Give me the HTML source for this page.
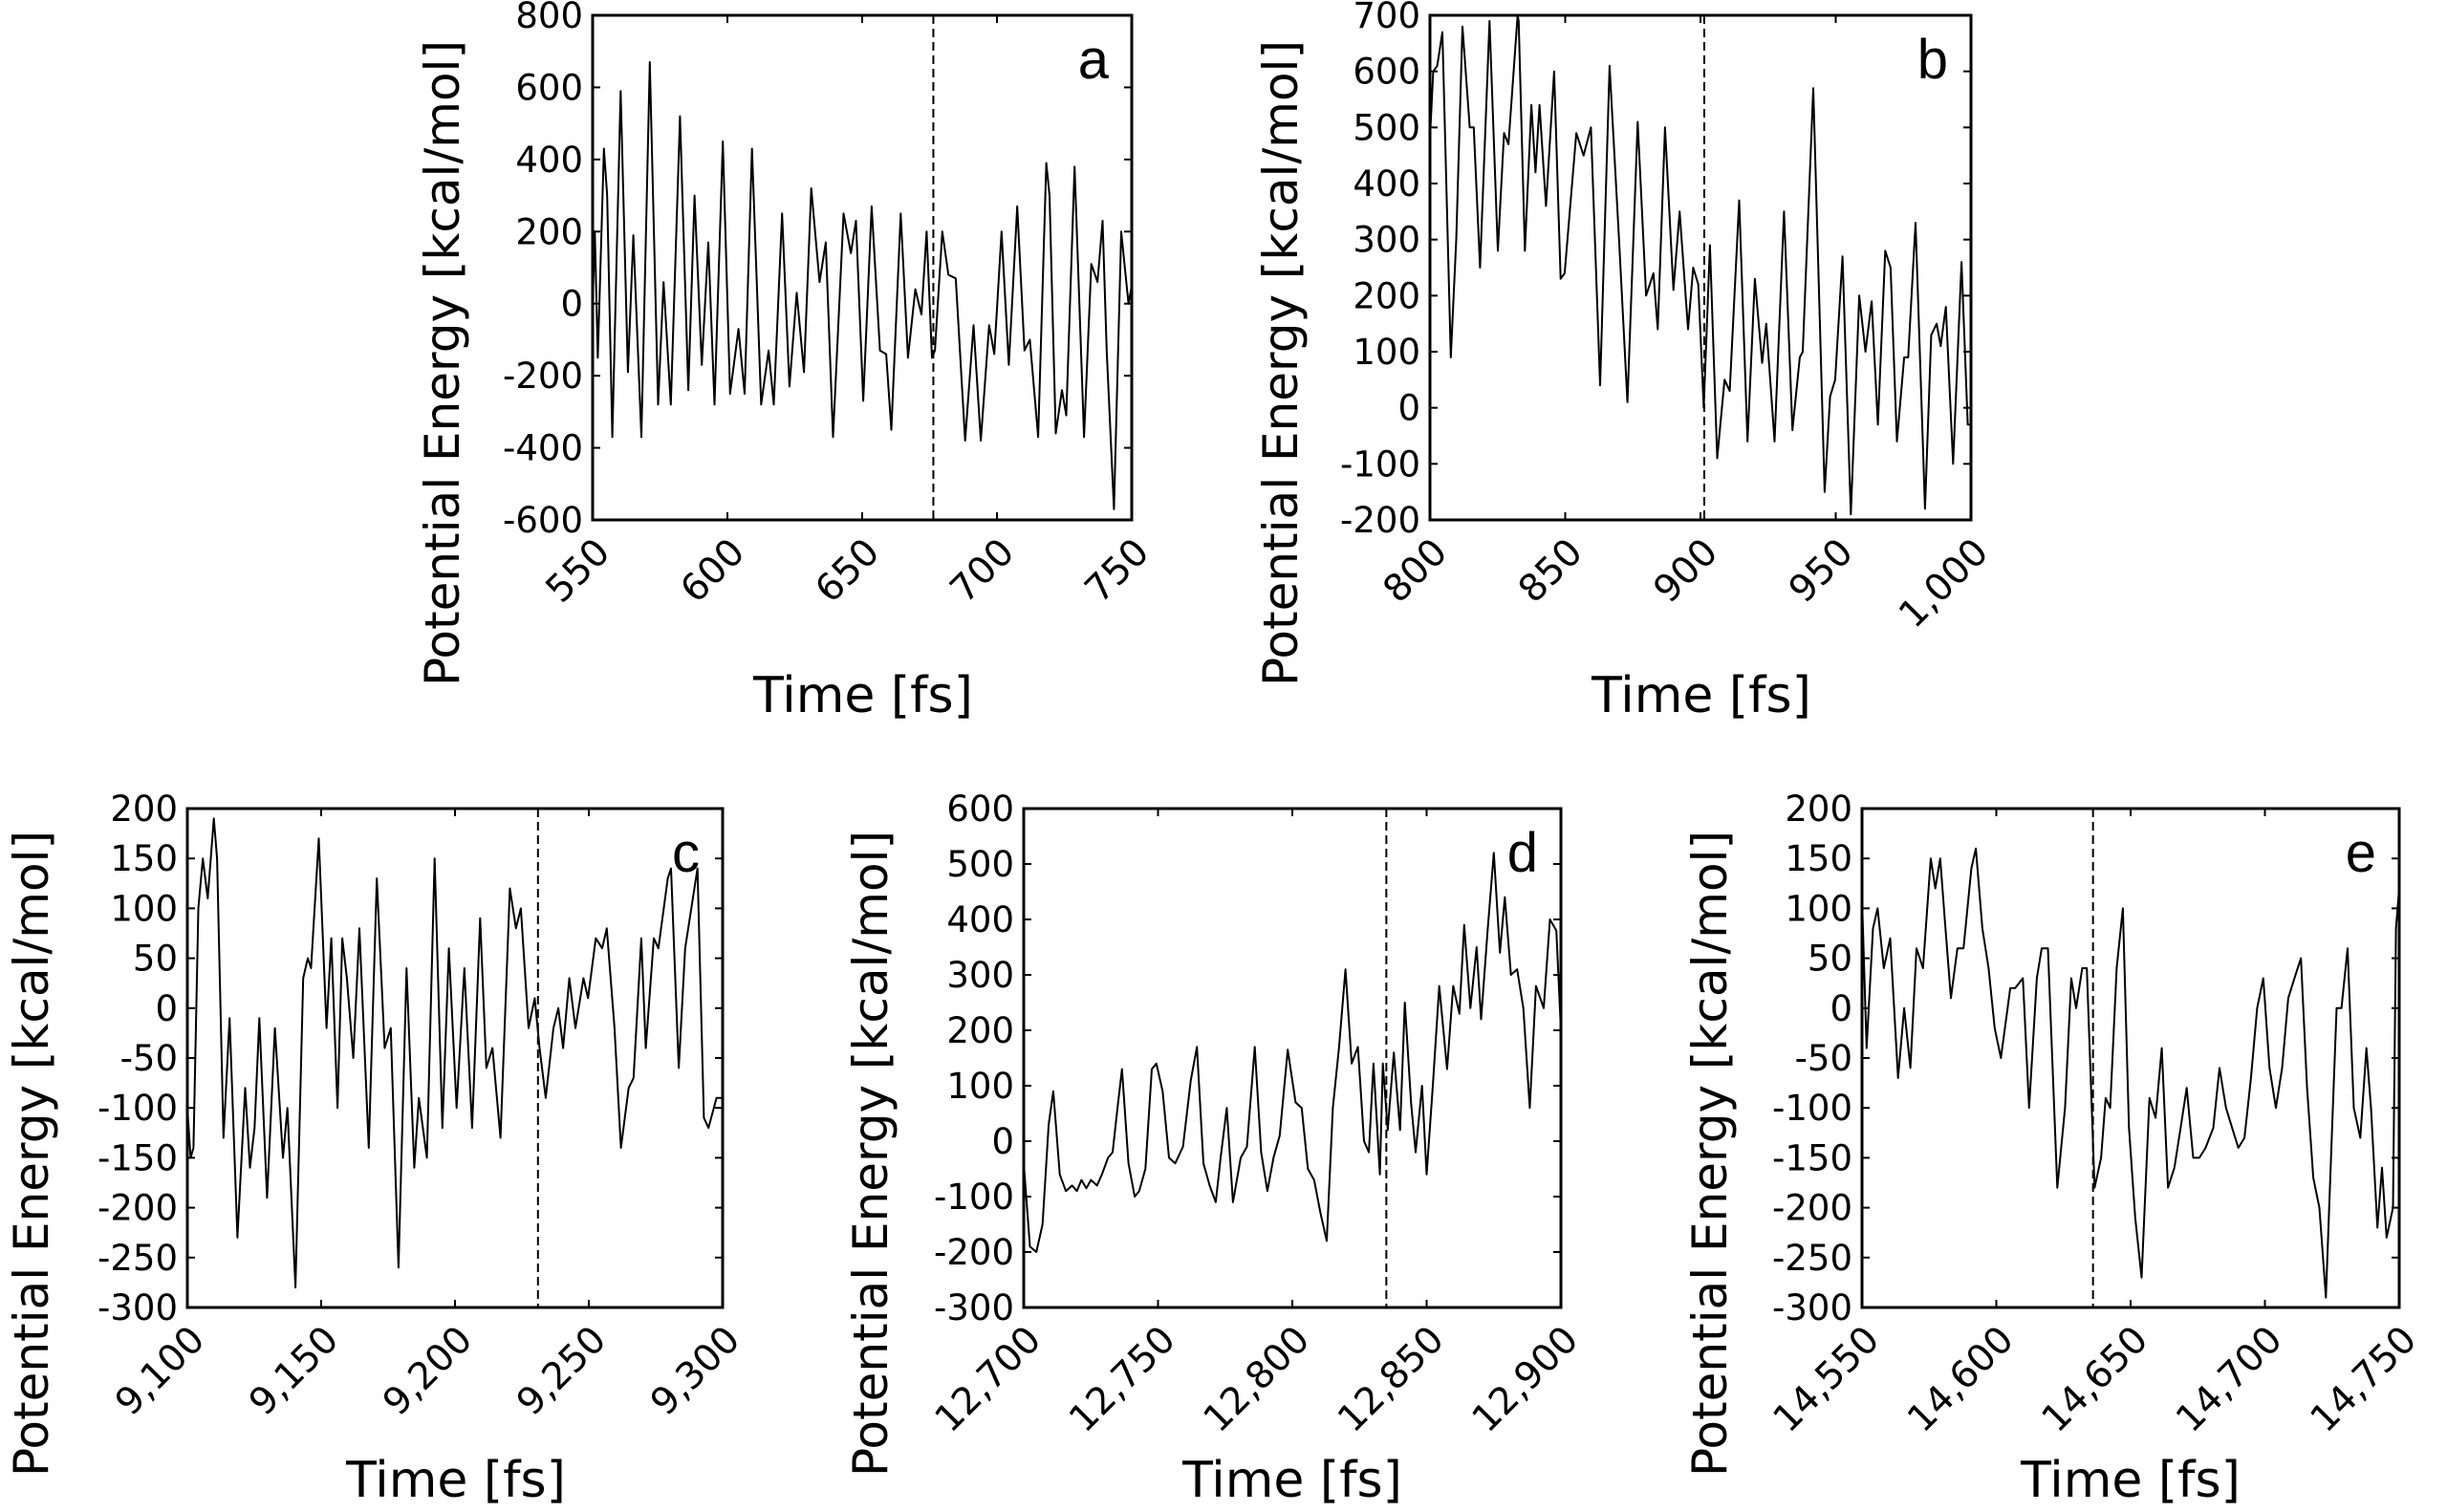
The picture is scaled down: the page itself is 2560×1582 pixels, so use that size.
<!DOCTYPE html>
<html><head><meta charset="utf-8">
<style>
html,body{margin:0;padding:0;background:#fff;}
svg{display:block;font-family:"DejaVu Sans","Liberation Sans",sans-serif;}
</style></head>
<body>
<svg id="fig" width="2560" height="1582" viewBox="0 0 2560 1582" xmlns="http://www.w3.org/2000/svg"></svg>
<script>
// ---- Panel data (time in fs, potential energy in kcal/mol) ----
const timeA = [550,550.8,551.9,554.2,555.4,557.3,560.4,563.1,565.1,568.1,571.2,574.3,576.3,579,582.4,585.5,587.8,590.5,592.9,595.2,598.3,601,604.1,606.4,609.1,612.5,615.3,617.2,620.3,623,625.7,628.4,631.1,634.2,636.5,639.2,643.1,645.8,647.7,650.4,653.5,656.6,658.9,660.8,664.3,667,669.7,672,673.9,675.9,677,679.7,682,684.7,688.2,691.3,694,697.1,699,701.7,704.4,707.5,710.2,712.2,715.3,718.3,719.5,721.8,724.1,725.7,728.8,732.3,735,737.3,739.2,740.7,743.4,746.1,748.8,750];
const energyA = [0,200,-150,430,300,-370,590,-190,190,-370,670,-280,60,-280,520,-240,300,-170,170,-280,450,-250,-70,-250,430,-280,-130,-280,250,-230,30,-190,320,60,170,-370,250,140,230,-270,270,-130,-140,-350,250,-150,40,-30,200,-150,-130,200,80,70,-380,-60,-380,-60,-140,200,-170,270,-130,-100,-370,390,300,-360,-240,-310,380,-370,110,60,230,-130,-570,200,0,50];
const timeB = [800,801.2,802.7,804.6,807.7,809.7,812,814.7,816.2,818.5,822,825.1,827.4,829,832.4,832.8,835.1,837.5,839,840.5,842.9,845.9,848.3,849.8,854.1,856.8,859.5,862.9,866.4,869.9,873,876.8,879.9,882.6,884.2,886.9,890,892.3,895.4,897.3,899.2,901.2,903.5,906.2,908.9,910.8,914.3,917.4,920.1,922.8,924.3,927.4,930.9,934,936.7,937.8,941.7,945.9,947.9,949.8,952.5,955.6,958.7,961,963.3,965.6,968.3,970.3,972.6,975.3,976.8,979.5,983,985.3,987.3,988.8,990.7,993.4,996.5,998.8,1000];
const energyB = [480,600,610,670,90,300,680,500,500,250,690,280,490,470,700,690,280,540,420,540,360,600,230,240,490,450,500,40,610,300,10,510,200,240,140,500,210,350,140,250,220,0,290,-90,50,30,370,-60,230,80,150,-60,350,-40,90,100,570,-150,20,50,270,-190,200,100,190,-30,280,250,-60,90,90,330,-180,130,150,110,180,-100,260,-30,-30];
const timeC = [9100,9101.2,9102.3,9104.1,9105.8,9107.6,9109.9,9111.1,9113.5,9115.8,9118.7,9121.6,9123.4,9125.1,9126.9,9129.8,9132.7,9135.7,9137.4,9140.4,9143.3,9145,9146.2,9149.1,9152,9153.8,9156.1,9157.9,9159.6,9162,9164.3,9167.8,9170.8,9173.7,9176,9178.9,9181.9,9184.8,9186.5,9189.5,9192.4,9195.3,9197.7,9200.6,9203.5,9206.4,9209.4,9211.7,9214,9217,9220.5,9222.8,9224.6,9227.5,9229.8,9231.6,9233.9,9236.8,9238.6,9240.4,9242.7,9245,9248,9249.7,9252.6,9255,9256.7,9259.6,9262,9264.9,9266.7,9269.6,9271.3,9274.3,9276,9279.5,9280.7,9283.6,9286,9290.6,9293,9294.7,9297.7,9300];
const energyC = [-100,-150,-140,100,150,110,190,150,-130,-10,-230,-80,-160,-120,-10,-190,-20,-150,-100,-280,30,50,40,170,-20,70,-100,70,30,-50,80,-140,130,-40,-20,-260,40,-160,-90,-150,150,-120,60,-100,40,-120,90,-60,-40,-130,120,80,100,-20,10,-40,-90,-20,0,-40,30,-20,30,10,70,60,80,-20,-140,-80,-70,70,-40,70,60,130,140,-60,60,140,-110,-120,-90,-90];
const timeD = [12700,12702.3,12704.7,12707,12709.3,12711,12713.4,12715.7,12718,12719.8,12721.5,12723.3,12725,12727.3,12729.1,12731.4,12733.1,12734.9,12736.6,12739,12741.3,12743,12745.3,12747.7,12749.4,12751.7,12754.1,12756.4,12759.3,12762.2,12764.5,12766.9,12769.2,12771.5,12773.3,12775.6,12777.9,12780.8,12783.1,12786,12788.4,12790.7,12793,12795.3,12798.3,12801.2,12803.5,12805.8,12808.1,12810.5,12812.8,12815.1,12817.4,12819.8,12822.1,12824.4,12826.7,12828.5,12830.2,12832.6,12833.7,12835.5,12837.8,12840.1,12841.9,12844.2,12845.9,12848.3,12850,12852.3,12854.7,12857.6,12859.9,12862.2,12864,12866.3,12868.6,12870.3,12872.7,12875,12877.3,12879.1,12881.4,12883.7,12886,12888.4,12890.7,12893.6,12895.9,12898.3,12900];
const energyD = [-40,-190,-200,-150,30,90,-60,-90,-80,-90,-70,-85,-70,-80,-60,-30,-20,60,130,-40,-100,-90,-50,130,140,90,-30,-40,-10,110,170,-40,-80,-110,-30,60,-110,-30,-10,170,-20,-90,-30,10,165,70,60,-50,-70,-130,-180,60,170,310,140,170,0,-20,140,-60,140,20,160,20,250,70,-20,100,-60,100,280,130,280,230,390,240,350,220,380,520,340,440,300,310,240,60,280,240,400,380,200];
const timeE = [14550,14551.7,14554.1,14555.8,14558.1,14560.5,14563.4,14565.7,14568,14570.3,14572.7,14575.6,14577.3,14579.1,14580.8,14583.1,14585.5,14587.8,14590.7,14592.4,14594.8,14597.1,14599.4,14601.7,14605.2,14607,14609.9,14612.2,14615.1,14616.9,14619.2,14622.7,14625.6,14627.9,14629.7,14632,14633.7,14636.6,14639,14640.7,14642.4,14644.8,14647.1,14649.4,14651.7,14654.1,14657,14659.3,14661.6,14663.9,14666.3,14668.6,14670.9,14673.3,14675.6,14677.9,14680.8,14683.1,14685.5,14687.8,14690.1,14692.4,14694.8,14697.1,14699.4,14701.7,14704.1,14706.4,14708.7,14711,14713.4,14715.7,14718,14720.3,14722.7,14725,14726.7,14728.5,14730.8,14733.1,14735.5,14737.8,14739.5,14741.9,14743.6,14745.3,14747.7,14748.8,14750];
const energyE = [110,-40,80,100,40,70,-70,0,-60,60,40,150,120,150,90,10,60,60,140,160,80,40,-20,-50,20,20,30,-100,30,60,60,-180,-100,30,0,40,40,-180,-150,-90,-100,40,100,-120,-210,-270,-90,-110,-40,-180,-160,-120,-80,-150,-150,-140,-120,-60,-100,-120,-140,-130,-70,0,30,-60,-100,-60,10,30,50,-80,-170,-200,-290,-120,0,0,60,-100,-130,-40,-100,-220,-160,-230,-200,80,120];

const ticksA = [-600,-400,-200,0,200,400,600,800];
const ticksB = [-200,-100,0,100,200,300,400,500,600,700];
const ticksC = [-300,-250,-200,-150,-100,-50,0,50,100,150,200];
const ticksD = [-300,-200,-100,0,100,200,300,400,500,600];
const ticksE = ticksC;
const xTicksA = [550,600,650,700,750];
const xTicksB = [800,850,900,950,1000];
const xTicksC = [9100,9150,9200,9250,9300];
const xTicksD = [12700,12750,12800,12850,12900];
const xTicksE = [14550,14600,14650,14700,14750];
const markers = [676.4, 901.4, 9231, 12835, 14636];
const letters = ['a','b','c','d','e'];

const NS = "http://www.w3.org/2000/svg";
const svg = document.getElementById('fig');
function mk(tag, attrs, parent){
  const e = document.createElementNS(NS, tag);
  for (const k in attrs) e.setAttribute(k, attrs[k]);
  (parent||svg).appendChild(e);
  return e;
}
function fmt(v){ return Math.abs(v)>=1000 ? v.toLocaleString('en-US') : String(v); }

const panels = [
  {box:[620,16,1184,544], t:timeA, v:energyA, yt:ticksA, xt:xTicksA, ylx:462, tlx:903, tly:727},
  {box:[1496,16,2062,544], t:timeB, v:energyB, yt:ticksB, xt:xTicksB, ylx:1339, tlx:1780, tly:727},
  {box:[196,846,756,1368], t:timeC, v:energyC, yt:ticksC, xt:xTicksC, ylx:32, tlx:477, tly:1548},
  {box:[1071,846,1633,1368], t:timeD, v:energyD, yt:ticksD, xt:xTicksD, ylx:910, tlx:1352, tly:1548},
  {box:[1948,846,2510,1368], t:timeE, v:energyE, yt:ticksE, xt:xTicksE, ylx:1788, tlx:2229, tly:1548}
];

panels.forEach((p, i) => {
  const [x0,y0,x1,y1] = p.box;
  const g = mk('g', {});
  
  
  const xmin = p.xt[0], xmax = p.xt[p.xt.length-1];
  const ymin = p.yt[0], ymax = p.yt[p.yt.length-1];
  const sx = t => x0 + (t - xmin) / (xmax - xmin) * (x1 - x0);
  const sy = v => y1 - (v - ymin) / (ymax - ymin) * (y1 - y0);

  let d = '';
  p.t.forEach((t, k) => { d += (k ? 'L' : 'M') + sx(t).toFixed(1) + ',' + sy(p.v[k]).toFixed(1); });
  const line = mk('path', {d: d, fill:'none', stroke:'#000', 'stroke-width':2, 'stroke-linejoin':'round'}, g);
  
  

  const mx = sx(markers[i]);
  const dl = mk('line', {x1:mx, y1:y0, x2:mx, y2:y1, stroke:'#000', 'stroke-width':2, 'stroke-dasharray':'9,5'}, g);
  
  

  const fr = mk('rect', {x:x0, y:y0, width:x1-x0, height:y1-y0, fill:'none', stroke:'#000', 'stroke-width':3}, g);
  
  

  p.yt.forEach(v => {
    const y = sy(v);
    mk('line', {x1:x0, y1:y, x2:x0+8, y2:y, stroke:'#000', 'stroke-width':2}, g);
    mk('line', {x1:x1-8, y1:y, x2:x1, y2:y, stroke:'#000', 'stroke-width':2}, g);
    const tx = mk('text', {x:x0-10, y:y+13, 'text-anchor':'end', 'font-size':37, fill:'#000'}, g);
    tx.textContent = fmt(v);
    
    
  });
  p.xt.forEach(t => {
    const x = sx(t);
    mk('line', {x1:x, y1:y1, x2:x, y2:y1-8, stroke:'#000', 'stroke-width':2}, g);
    mk('line', {x1:x, y1:y0, x2:x, y2:y0+8, stroke:'#000', 'stroke-width':2}, g);
    const tx = mk('text', {x:x+20, y:y1+36, 'text-anchor':'end', 'font-size':39, fill:'#000', transform:'rotate(-45 '+(x+20)+' '+(y1+36)+')'}, g);
    tx.textContent = fmt(t);
    
    
  });

  const cy = (y0 + y1) / 2 + 100;
  const yl = mk('text', {x:p.ylx+18, y:cy, 'text-anchor':'middle', 'font-size':50, fill:'#000', transform:'rotate(-90 '+(p.ylx+18)+' '+cy+')'}, g);
  yl.textContent = 'Potential Energy [kcal/mol]';
  
  
  const xl = mk('text', {x:p.tlx, y:p.tly+18, 'text-anchor':'middle', 'font-size':52, fill:'#000'}, g);
  xl.textContent = 'Time [fs]';
  
  

  const lt = mk('text', {x:x1-24, y:y0+66, 'text-anchor':'end', 'font-size':58, fill:'#000', 'font-family':'Liberation Sans, sans-serif'}, g);
  lt.textContent = letters[i];
  
  
});
</script>
</body></html>
